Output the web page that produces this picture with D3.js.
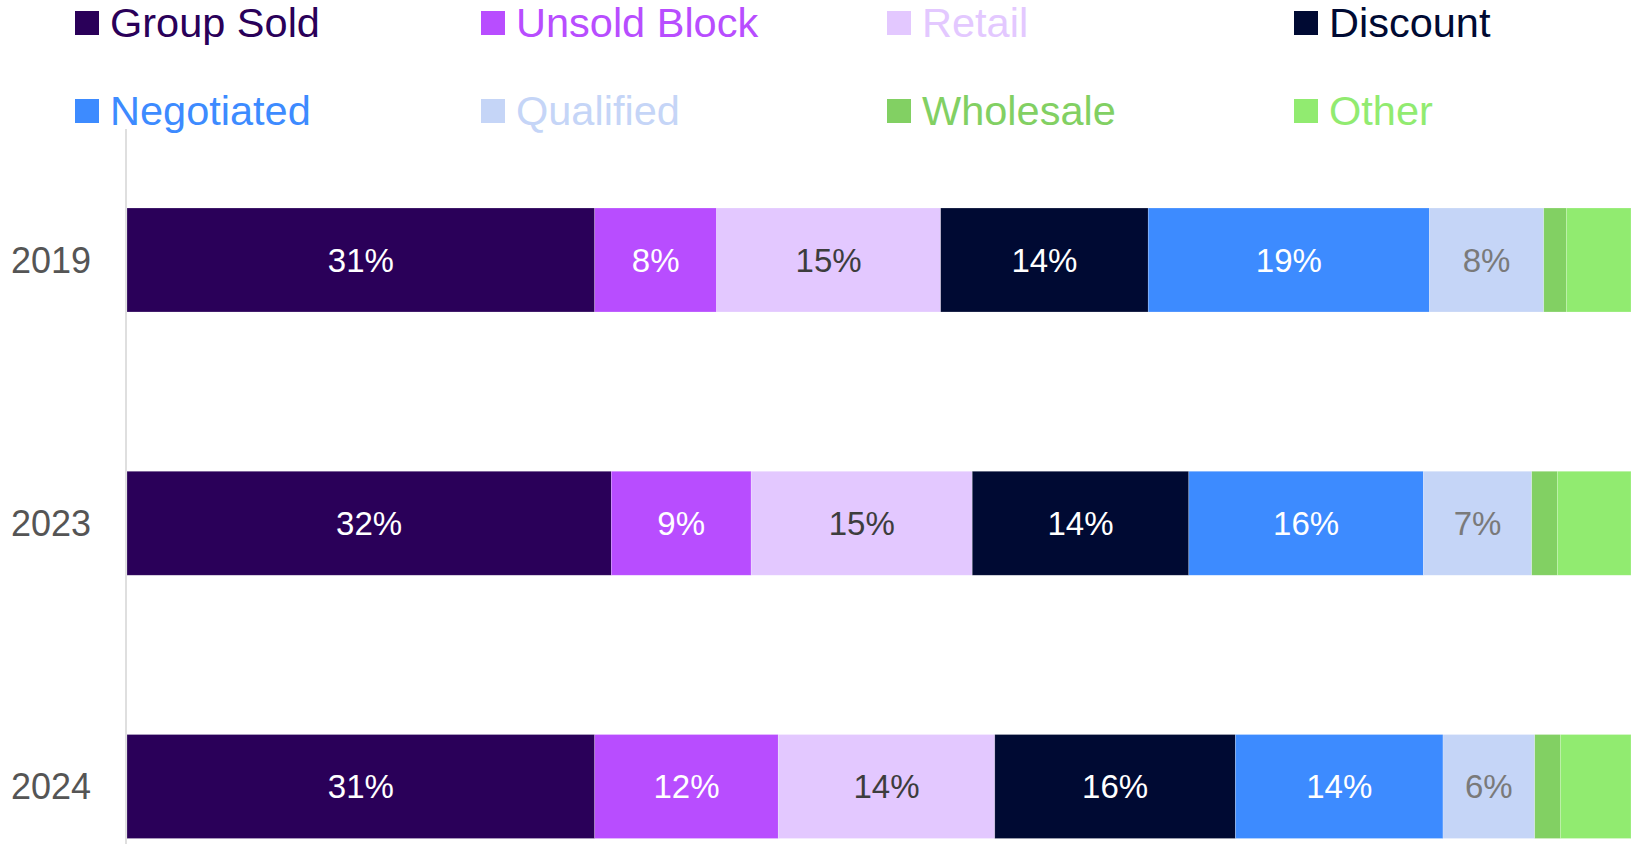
<!DOCTYPE html>
<html>
<head>
<meta charset="utf-8">
<script src="https://cdn.jsdelivr.net/npm/d3@7"></script>
<style>
  html, body { margin: 0; padding: 0; background: #fff; }
  svg { display: block; font-family: "Liberation Sans", Arial, Helvetica, sans-serif; }
</style>
</head>
<body>
<svg id="chart" width="1639" height="844"></svg>
<script>
const years = ["2019", "2023", "2024"];
const seriesNames = ["Group Sold", "Unsold Block", "Retail", "Discount", "Negotiated", "Qualified", "Wholesale", "Other"];
const seriesColors = ["#2a0059", "#b84dff", "#e3c8ff", "#000a33", "#3d8bff", "#c5d5f7", "#82d063", "#91eb70"];
const labelColors = ["#ffffff", "#ffffff", "#3d3d3d", "#ffffff", "#ffffff", "#7a7a7a", null, null];
const values2019 = [31.1, 8.1, 14.9, 13.8, 18.7, 7.6, 1.5, 4.3];
const values2023 = [32.2, 9.3, 14.7, 14.4, 15.6, 7.2, 1.7, 4.9];
const values2024 = [31.1, 12.2, 14.4, 16.0, 13.8, 6.1, 1.7, 4.7];
const valuesByYear = [values2019, values2023, values2024];

const svg = d3.select("#chart");

const x = d3.scaleLinear().domain([0, 100]).range([127, 1631]);
const y = d3.scaleBand().domain(years).range([208, 838.5]).paddingInner(0.605).paddingOuter(0);

// stack data
const rows = years.map((yr, i) => {
  const o = { year: yr };
  seriesNames.forEach((s, j) => o[s] = valuesByYear[i][j]);
  return o;
});
const stacked = d3.stack().keys(seriesNames)(rows);

// axis line
svg.append("line")
  .attr("x1", 126).attr("x2", 126)
  .attr("y1", 129).attr("y2", 844)
  .attr("stroke", "#d4d4d4").attr("stroke-width", 1.5);

// bars
const groups = svg.append("g").selectAll("g")
  .data(stacked).join("g")
  .attr("fill", (d, i) => seriesColors[i]);

groups.selectAll("rect")
  .data(d => d.map(p => ({ p, key: d.key })))
  .join("rect")
  .attr("x", d => x(d.p[0]))
  .attr("width", d => x(d.p[1]) - x(d.p[0]))
  .attr("y", d => y(d.p.data.year))
  .attr("height", y.bandwidth())
  .attr("stroke", "#ffffff")
  .attr("stroke-opacity", 0.35)
  .attr("stroke-width", 0.6);

// value labels
stacked.forEach((layer, i) => {
  if (!labelColors[i]) return;
  svg.append("g").selectAll("text")
    .data(layer).join("text")
    .attr("x", d => (x(d[0]) + x(d[1])) / 2)
    .attr("y", d => y(d.data.year) + y.bandwidth() / 2)
    .attr("dy", "0.35em")
    .attr("text-anchor", "middle")
    .attr("font-size", 33)
    .attr("fill", labelColors[i])
    .text(d => Math.round(d[1] - d[0]) + "%");
});

// year labels
svg.append("g").selectAll("text")
  .data(years).join("text")
  .attr("x", 91)
  .attr("y", d => y(d) + y.bandwidth() / 2)
  .attr("dy", "0.35em")
  .attr("text-anchor", "end")
  .attr("font-size", 36)
  .attr("fill", "#555555")
  .text(d => d);

// legend
const legendX = [75, 481, 887, 1294];
const legendY = [11, 99];
const legend = svg.append("g").selectAll("g")
  .data(seriesNames).join("g")
  .attr("transform", (d, i) => `translate(${legendX[i % 4]},${legendY[Math.floor(i / 4)]})`);
legend.append("rect")
  .attr("width", 24).attr("height", 24)
  .attr("fill", (d, i) => seriesColors[i]);
legend.append("text")
  .attr("x", 35).attr("y", 26)
  .attr("font-size", 41.5)
  .attr("fill", (d, i) => seriesColors[i])
  .text(d => d);
</script>
</body>
</html>
